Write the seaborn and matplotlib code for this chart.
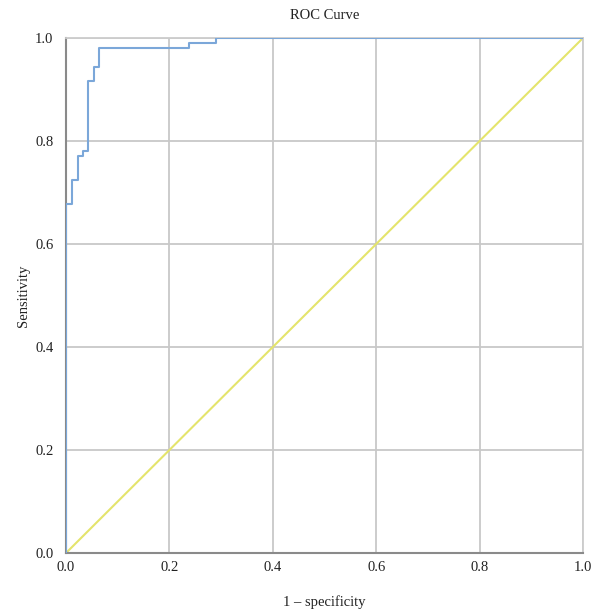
import matplotlib
matplotlib.use("Agg")
import matplotlib.pyplot as plt
import seaborn as sns
import pandas as pd

# ROC curve vertices (1 - specificity, sensitivity)
fpr = [0.0, 0.0, 0.011, 0.011, 0.023, 0.023, 0.032, 0.032, 0.043, 0.043,
       0.055, 0.055, 0.064, 0.064, 0.237, 0.237, 0.291, 0.291, 1.0]
tpr = [0.0, 0.678, 0.678, 0.724, 0.724, 0.77, 0.77, 0.78, 0.78, 0.917,
       0.917, 0.944, 0.944, 0.981, 0.981, 0.99, 0.99, 1.0, 1.0]
ref_x = [0.0, 1.0]
ref_y = [0.0, 1.0]
ticks = [0.0, 0.2, 0.4, 0.6, 0.8, 1.0]

sns.set_theme(style="white")
plt.rcParams['font.family'] = ['Liberation Serif', 'DejaVu Serif']

fig = plt.figure(figsize=(5.96, 6.14), dpi=100)
ax = fig.add_axes([0.1107, 0.0993, 0.8675, 0.8388])

roc = pd.DataFrame({"fpr": fpr, "tpr": tpr})
ref = pd.DataFrame({"x": ref_x, "y": ref_y})

ax.set_axisbelow(True)
for t in ticks[1:]:
    ax.axvline(t, color="#c8c8c8", lw=1.3, zorder=0)
    ax.axhline(t, color="#c8c8c8", lw=1.3, zorder=0)

sns.lineplot(data=ref, x="x", y="y", ax=ax, color="#e4e46c", lw=1.5,
             estimator=None, sort=False, zorder=2)
sns.lineplot(data=roc, x="fpr", y="tpr", ax=ax, color="#7ba7d9", lw=1.5,
             estimator=None, sort=False, zorder=3)

ax.set_xlim(0, 1)
ax.set_ylim(0, 1)
ax.set_xticks(ticks)
ax.set_yticks(ticks)
ax.set_xticklabels([f"{t:.1f}" for t in ticks])
ax.set_yticklabels([f"{t:.1f}" for t in ticks])
ax.tick_params(axis="x", labelsize=10.5, colors="#222222", length=0, pad=6)
ax.tick_params(axis="y", labelsize=10.5, colors="#222222", length=0, pad=9)

for side in ["top", "right"]:
    ax.spines[side].set_color("#cccccc")
    ax.spines[side].set_linewidth(1.3)
for side in ["left", "bottom"]:
    ax.spines[side].set_color("#8a8a8a")
    ax.spines[side].set_linewidth(1.5)

ax.set_title("ROC Curve", fontsize=10.5, color="#222222", pad=14)
ax.set_xlabel("1 – specificity", fontsize=10.5, color="#222222", labelpad=15)
ax.set_ylabel("Sensitivity", fontsize=10.5, color="#222222", labelpad=4)

fig.savefig("out.png", dpi=100)
